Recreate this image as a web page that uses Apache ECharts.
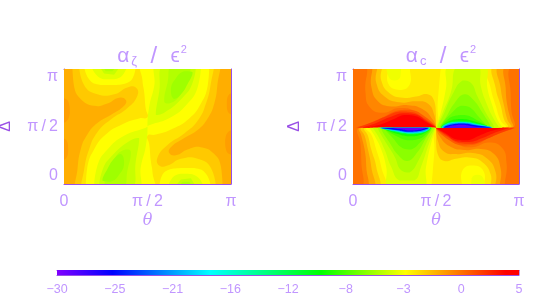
<!DOCTYPE html>
<html>
<head>
<meta charset="utf-8">
<style>html,body{margin:0;padding:0;background:#fff}#c{width:548px;height:298px}</style>
<script src="https://cdn.jsdelivr.net/npm/echarts@6/dist/echarts.min.js"></script>
</head>
<body>
<div id="c"></div>
<script>
// Colour scale
const rampValues = [-30, -25.8, -18.4, -10, -3.6, 4, 5];
const rampColors = ['#8000ff', '#0000ff', '#00ffff', '#00ff00', '#ffff00', '#ff0000', '#ff0000'];
const colorbarTicks = ['\u221230', '\u221225', '\u221221', '\u221216', '\u221212', '\u22128', '\u22123', '0', '5'];

// Contour regions, painted in order. Each: [level, u,v, u,v, ...], with u = theta/pi and v = delta/pi in percent.
const leftContours = [
 [-1.2, -100,-100, 200,-100, 200,200, -100,200],
 [-0.7, -5,52, 1,54, 3.5,62, 3,70, 1,74, -5,76],
 [-0.7, -5,20, 1,22, 2.5,30, 1.5,38, -5,41],
 [-0.7, 105,48, 99,46, 96.5,38, 97,30, 99,26, 105,24],
 [-0.7, 105,80, 99,78, 97.5,70, 98.5,62, 105,59],
 [-2, 5,105, 6,85, 10,74, 18,68, 26,70, 33,75, 37,73, 36,68, 28,60, 20,53, 14,43, 10,30, 8,12, 7,-5, 95,-5, 94,15, 90,26, 82,32, 74,30, 67,25, 63,27, 64,32, 72,40, 80,47, 86,57, 90,70, 92,88, 93,105],
 [-2.8, 9,105, 12,86, 20,78, 30,78, 38,84, 43,84, 44,77, 38,66, 28,56, 20,45, 15,30, 12,12, 11,-5, 91,-5, 88,14, 80,22, 70,22, 62,16, 57,16, 56,23, 62,34, 72,44, 80,55, 85,70, 88,88, 89,105],
 [-3.6, 13,-5, 14,15, 18,30, 25,43, 35,52, 45,57, 50,58, 49,65, 48,80, 47,90, 47,105, 87,105, 86,85, 82,70, 75,57, 65,48, 55,43, 50,42, 51,35, 52,20, 53,10, 53,-5],
 [-3.6, 12,105, 15,91, 22,86, 30,86, 38,88, 42,95, 43,105],
 [-3.6, 88,-5, 85,9, 78,14, 70,14, 62,12, 58,5, 57,-5],
 [-4.3, 18,-5, 20,16, 26,30, 36,42, 49,49, 50,50, 49,33, 46,15, 44,-5],
 [-4.3, 82,105, 80,84, 74,70, 64,58, 51,51, 50,50, 51,67, 54,85, 56,105],
 [-4.3, 16,105, 20,94, 27,91, 34,93, 38,105],
 [-4.3, 84,-5, 80,6, 73,9, 66,7, 62,-5],
 [-5, 21,-5, 23,12, 29,25, 40,38, 45,40, 43,20, 40,-5],
 [-5, 79,105, 77,88, 71,75, 60,62, 55,60, 57,80, 60,105],
 [-5, 20,105, 24,96, 30,95, 35,105],
 [-5, 80,-5, 76,5, 70,4, 65,-5],
 [-5.5, 24,-5, 26,10, 31,24, 37,30, 40,28, 38,12, 35,-5],
 [-5.5, 76,105, 74,90, 69,76, 63,70, 60,72, 62,88, 65,105],
 [-5.5, 22,105, 25,98, 29,98, 33,105],
 [-5.5, 78,-5, 75,2, 71,2, 67,-5],
 [-6, 23,3, 26,13, 30,22, 34,26, 36,18, 33,8, 28,2],
 [-6, 77,97, 74,87, 70,78, 66,74, 64,82, 67,92, 72,98]
];

const rightContours = [
 [-3.6, -100,-100, 200,-100, 200,200, -100,200],
 [-3, -5,-5, 19,-5, 17,15, 14,30, 11,43, 8,48.5, 20,49, 35,49, 50,49, 51,70, 52,88, 53,105, 36,105, 34,86, 27,82, 21,88, 20,105, -5,105],
 [-3, 105,103, 81,103, 83,83, 86,68, 89,55, 92,49.5, 80,49, 65,49, 50,49, 49,28, 48,10, 47,-7, 64,-7, 66,12, 73,16, 79,10, 80,-7, 105,-7],
 [-4, 20,105, 21.5,93, 25,90, 28.5,93, 29,105],
 [-4, 80,-7, 78.5,5, 75,8, 71.5,5, 71,-7],
 [-2, -5,-5, 15,-5, 14,15, 11,30, 9,42, 7,48.5, 20,49, 50,49, 50,60, 49,72, 45,78, 38,76, 30,75, 22,79, 17,90, 16,105, -5,105],
 [-2, 105,103, 85,103, 86,83, 89,68, 91,56, 93,49.5, 80,49, 50,49, 50,38, 51,26, 55,20, 62,22, 70,23, 78,19, 83,8, 84,-7, 105,-7],
 [-1, -5,-5, 12,-5, 11,15, 9,30, 7,42, 5,48.7, 20,49, 50,49, 49,60, 45,70, 38,72, 28,71, 19,76, 14,88, 13,105, -5,105],
 [-1, 105,103, 88,103, 89,83, 91,68, 93,56, 95,49.3, 80,49, 50,49, 51,38, 55,28, 62,26, 72,27, 81,22, 86,10, 87,-7, 105,-7],
 [0, -5,-5, 8,-5, 8,15, 7,30, 5,42, 4,48.8, 20,49, 50,49, 48,56, 42,65, 33,68.5, 23,67.5, 15,72, 11,85, 10,105, -5,105],
 [0, 105,103, 92,103, 92,83, 93,68, 95,56, 96,49.2, 80,49, 50,49, 52,42, 58,33, 67,29.5, 77,30.5, 85,26, 89,13, 90,-7, 105,-7],
 [0.6, -5,-5, 5,-5, 5,20, 4.5,35, 3.5,48.8, 20,49, 50,49, 46,54, 38,63, 28,66, 18,62, 10,67, 7.5,80, 7,105, -5,105],
 [0.6, 105,103, 95,103, 95,78, 95.5,63, 96.5,49.2, 80,49, 50,49, 54,44, 62,35, 72,32, 82,36, 90,31, 92.5,18, 93,-7, 105,-7],
 [1.3, 2,49, 10,53, 18,58, 26,63.5, 34,64.5, 42,60, 50,49, 25,49],
 [1.3, 98,49, 90,45, 82,40, 74,34.5, 66,33.5, 58,38, 50,49, 75,49],
 [2.2, 3,49, 12,54, 20,59, 28,63, 36,62.5, 43,57, 50,49, 25,49],
 [2.2, 97,49, 88,44, 80,39, 72,35, 64,35.5, 57,41, 50,49, 75,49],
 [3.2, 6,49, 14,53, 22,58, 30,61.5, 38,60.5, 44,55, 50,49, 25,49],
 [3.2, 94,49, 86,45, 78,40, 70,36.5, 62,37.5, 56,43, 50,49, 75,49],
 [4, 9,49, 17,52, 24,56, 31,60, 38,59, 44,54, 49,49.5, 30,49],
 [4, 91,49, 83,46, 76,42, 69,38, 62,39, 56,44, 51,48.5, 70,49],
 [-4.3, 10,49, 13,42, 17,30, 20,15, 22,-5, 42,-5, 44,15, 47,35, 50,49, 30,49],
 [-4.3, 90,49, 87,56, 84,68, 81,83, 79,103, 58,103, 56,83, 53,63, 50,49, 70,49],
 [-5, 12,49, 15,42, 19,30, 23,15, 28,3, 37,3, 41,15, 46,36, 49.5,49, 30,49],
 [-5, 88,49, 85,56, 81,68, 77,85, 75,103, 63,103, 59,80, 54,62, 50.5,49, 70,49],
 [-5.7, 15,49, 19,38, 25,24, 29,12, 34,10, 40,22, 45,38, 49,49, 30,49],
 [-5.7, 85,49, 80,62, 75,76, 71,88, 66,90, 60,78, 55,62, 51,49, 70,49],
 [-6.5, 17,49, 22,36, 28,24, 33,20, 39,28, 44,40, 48,49, 30,49],
 [-6.5, 83,49, 78,62, 72,74, 67,78, 61,70, 56,58, 52,49, 70,49],
 [-7.3, 19,49, 24,40, 30,31, 35,30, 41,37, 46,45, 47.5,49, 30,49],
 [-7.3, 81,49, 76,58, 70,67, 65,68, 59,61, 54,53, 52.5,49, 70,49],
 [-8.2, 19,49, 27,41, 33,38, 38,38.5, 43,42, 47,49, 30,49],
 [-8.2, 81,49, 73,57, 67,60, 62,59.5, 57,56, 53,49, 70,49],
 [-9.5, 18,49, 27,43.5, 34,41.5, 39,42, 44,45, 47,49, 30,49],
 [-9.5, 82,49, 73,54.5, 66,56.5, 61,56, 56,53, 53,49, 70,49],
 [-12.5, 17,49, 26,45, 34,43.2, 40,43.7, 45,46, 47,49, 30,49],
 [-12.5, 83,49, 74,53, 66,54.8, 60,54.3, 55,52, 53,49, 70,49],
 [-17, 16,49, 25,46, 33,44, 40,44.4, 45,46.8, 46.5,49, 30,49],
 [-17, 84,49, 75,52, 67,54, 60,53.6, 55,51.2, 53.5,49, 70,49],
 [-21, 16,49, 25,46.5, 33,44.6, 40,45, 45,47.2, 46,49, 30,49],
 [-21, 84,49, 75,51.5, 67,53.4, 60,53, 55,50.8, 54,49, 70,49],
 [-25.5, 17,49, 26,47, 33,45.4, 39,45.8, 44,47.6, 45.5,49, 30,49],
 [-25.5, 83,49, 74,51, 67,52.6, 61,52.2, 56,50.4, 54.5,49, 70,49],
 [-29, 23,49, 28,47.8, 34,46.5, 39,47, 43,48.3, 44,49, 32,49],
 [-29, 77,49, 72,50.2, 66,51.5, 61,51, 57,49.7, 56,49, 68,49]
];

const FRAME = '#9a50e6', TEXT = '#c096ff', FONT = '"Liberation Sans", sans-serif';

function hex(c){return [1,3,5].map(i=>parseInt(c.substr(i,2),16));}
function colorOf(v){
  if(v<=rampValues[0]) return rampColors[0];
  for(let i=1;i<rampValues.length;i++){
    if(v<=rampValues[i]){
      const t=(v-rampValues[i-1])/(rampValues[i]-rampValues[i-1]);
      const a=hex(rampColors[i-1]),b=hex(rampColors[i]);
      return 'rgb('+a.map((x,k)=>Math.round(x+(b[k]-x)*t)).join(',')+')';
    }
  }
  return rampColors[rampColors.length-1];
}
function tickLabel(v){return v===0?'0':v===50?'\u03c0\u2009/\u20092':v===100?'\u03c0':'';}

function panelAxes(g){
  const line={lineStyle:{color:FRAME,width:1}};
  const tick={show:true,inside:true,length:2,lineStyle:{color:FRAME}};
  const common={type:'value',min:0,max:100,interval:10,gridIndex:g,splitLine:{show:false},axisLine:{show:true,onZero:false,...line},axisTick:tick};
  return {
    x:[
      {...common,position:'bottom',name:'\u03b8',nameLocation:'middle',nameGap:29,
       nameTextStyle:{color:TEXT,fontFamily:'"DejaVu Serif", serif',fontStyle:'italic',fontSize:16},
       axisLabel:{show:true,color:TEXT,fontFamily:FONT,fontSize:16,margin:10,showMinLabel:true,showMaxLabel:true,formatter:tickLabel,hideOverlap:false}},
      {...common,position:'top',axisLabel:{show:false}}
    ],
    y:[
      {...common,position:'left',name:'\u0394',nameLocation:'middle',nameGap:50,nameRotate:90,
       nameTextStyle:{color:FRAME,fontFamily:FONT,fontSize:16},
       axisLabel:{show:true,color:TEXT,fontFamily:FONT,fontSize:16,margin:6,showMinLabel:true,showMaxLabel:true,formatter:tickLabel,hideOverlap:false,verticalAlignMinLabel:'bottom',verticalAlignMaxLabel:'top'}},
      {...common,position:'right',axisLabel:{show:false}}
    ]
  };
}

function contourSeries(shapes,xi,yi){
  return {
    type:'custom',coordinateSystem:'cartesian2d',xAxisIndex:xi,yAxisIndex:yi,clip:true,silent:true,animation:false,z:1,
    data:shapes.map((s,i)=>[i]),
    encode:{x:[],y:[]},
    renderItem:function(params,api){
      const s=shapes[api.value(0)],pts=[];
      for(let i=1;i<s.length;i+=2) pts.push(api.coord([s[i],s[i+1]]));
      return {type:'polygon',shape:{points:pts,smooth:s.length>9?0.5:0,smoothConstraint:[pts[0],pts[0]]},style:{fill:colorOf(s[0]),stroke:null}};
    }
  };
}

const a0=panelAxes(0),a1=panelAxes(1);
const rampSpan=rampValues[rampValues.length-1]-rampValues[0];

function titleOf(sub,left){
  const base={color:TEXT,fontFamily:FONT,fontWeight:'normal'};
  return {
    text:'{a|\u03b1}{s|'+sub+'}{g|    }{b|/}{g|    }{a|\u03f5}{p|2}',
    left:left,top:39,textAlign:'center',
    textStyle:{fontWeight:'normal',rich:{
      a:{...base,fontSize:21},
      s:{...base,fontSize:13,verticalAlign:'bottom',padding:[6,0,0,2]},
      b:{...base,fontSize:24},
      g:{...base,fontSize:12},
      p:{...base,fontSize:11,verticalAlign:'top',padding:[0,0,7,1]}
    }}
  };
}

const chart=echarts.init(document.getElementById('c'),null,{renderer:'canvas'});
chart.setOption({
  animation:false,
  backgroundColor:'#fff',
  title:[titleOf('\u03b6',147),titleOf('c',436)],
  grid:[
    {left:64,top:69,width:167,height:115,containLabel:false,outerBoundsMode:'none'},
    {left:353,top:69,width:166,height:115,containLabel:false,outerBoundsMode:'none'},
    {left:57,top:270,width:462,height:5,containLabel:false,outerBoundsMode:'none'}
  ],
  xAxis:[
    ...a0.x,...a1.x,
    {type:'value',gridIndex:2,min:0,max:8,interval:1,position:'bottom',splitLine:{show:false},
     axisLine:{show:true,lineStyle:{color:FRAME}},axisTick:{show:true,inside:true,length:5,lineStyle:{color:FRAME,opacity:.6}},
     axisLabel:{color:TEXT,fontFamily:FONT,fontSize:12.5,margin:8,showMinLabel:true,showMaxLabel:true,formatter:v=>colorbarTicks[v]}},
    {type:'value',gridIndex:2,min:0,max:8,interval:1,position:'top',splitLine:{show:false},
     axisLine:{show:true,lineStyle:{color:FRAME}},axisTick:{show:false},axisLabel:{show:false}}
  ],
  yAxis:[
    ...a0.y,...a1.y,
    {type:'value',gridIndex:2,min:0,max:1,show:false}
  ],
  series:[
    contourSeries(leftContours,0,0),
    contourSeries(rightContours,2,2),
    {type:'custom',coordinateSystem:'cartesian2d',xAxisIndex:4,yAxisIndex:4,silent:true,animation:false,z:1,
     data:[[0]],encode:{x:[],y:[]},
     renderItem:function(params,api){
       const p0=api.coord([0,1]),p1=api.coord([8,0]);
       return {type:'rect',shape:{x:p0[0],y:p0[1],width:p1[0]-p0[0],height:p1[1]-p0[1]},
         style:{fill:new echarts.graphic.LinearGradient(0,0,1,0,
           rampValues.map((v,i)=>({offset:(v-rampValues[0])/rampSpan,color:rampColors[i]})))}};
     }}
  ]
});
</script>
</body>
</html>
